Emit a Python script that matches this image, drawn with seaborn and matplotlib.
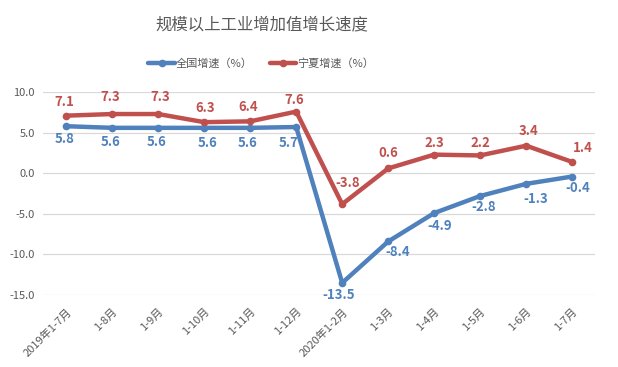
import matplotlib.pyplot as plt
import numpy as np
import pandas as pd
import seaborn as sns

# 数据
months = ["2019年1-7月", "1-8月", "1-9月", "1-10月", "1-11月", "1-12月",
          "2020年1-2月", "1-3月", "1-4月", "1-5月", "1-6月", "1-7月"]
national = [5.8, 5.6, 5.6, 5.6, 5.6, 5.7, -13.5, -8.4, -4.9, -2.8, -1.3, -0.4]
ningxia = [7.1, 7.3, 7.3, 6.3, 6.4, 7.6, -3.8, 0.6, 2.3, 2.2, 3.4, 1.4]
series_names = ["全国增速（%）", "宁夏增速（%）"]

# 标签偏移（像素）
national_offsets = [(-2, -13), (-2, -14), (-2, -14), (3, -15), (-3, -15), (-8, -16),
                    (-4, -12), (10, -11), (6, -13), (4, -11), (10, -15), (6, -11)]
ningxia_offsets = [(-2, 14), (-2, 17), (2, 17), (1, 14), (-2, 14), (-2, 12),
                   (5, 21), (0, 15), (0, 12), (0, 12), (2, 15), (11, 14)]

BLUE = "#4F81BD"
RED = "#C0504D"
GRAY = "#595959"

sns.set_style("white")
plt.rcParams["font.family"] = ["Noto Sans CJK SC", "DejaVu Sans"]

df = pd.DataFrame({
    "x": list(range(len(months))) * 2,
    "value": national + ningxia,
    "series": [series_names[0]] * len(months) + [series_names[1]] * len(months),
})

fig = plt.figure(figsize=(6.18, 3.67), dpi=100)
ax = fig.add_axes([0.070, 0.196, 0.893, 0.553])

sns.lineplot(
    data=df, x="x", y="value", hue="series",
    palette=[BLUE, RED], linewidth=3.2, marker="o", markersize=5.5,
    markeredgewidth=0, ax=ax,
)

ax.set_xlim(-0.5, len(months) - 0.5)
ax.set_ylim(-15, 10)
yticks = np.arange(-15, 10.1, 5)
ax.set_yticks(yticks)
ax.set_yticklabels([f"{v:.1f}" for v in yticks], fontsize=8, color=GRAY)
ax.set_xticks(range(len(months)))
ax.set_xticklabels(months, rotation=45, ha="right", rotation_mode="anchor",
                   fontsize=8, color=GRAY)
ax.tick_params(axis="y", length=0, pad=6)
ax.tick_params(axis="x", length=0, pad=8)
ax.grid(axis="y", color="#D9D9D9", linewidth=0.9)
ax.set_axisbelow(True)
for side in ax.spines.values():
    side.set_visible(False)
ax.set_xlabel("")
ax.set_ylabel("")

# 数据标签
for i, v in enumerate(national):
    ax.annotate(f"{v:.1f}", (i, v), xytext=national_offsets[i], textcoords="offset pixels",
                ha="center", va="center", fontsize=9.5, fontweight="bold", color=BLUE)
for i, v in enumerate(ningxia):
    ax.annotate(f"{v:.1f}", (i, v), xytext=ningxia_offsets[i], textcoords="offset pixels",
                ha="center", va="center", fontsize=9.5, fontweight="bold", color=RED)

fig.text(0.423, 0.932, "规模以上工业增加值增长速度", ha="center", va="center",
         fontsize=11.8, color=GRAY)

handles, labels = ax.get_legend_handles_labels()
ax.legend(handles, labels, loc="center", bbox_to_anchor=(0.395, 1.14),
          ncol=2, frameon=False, fontsize=8, labelcolor=GRAY,
          handlelength=2.4, columnspacing=1.5, handletextpad=0.1)

fig.savefig("out.png", dpi=100, facecolor="white")
